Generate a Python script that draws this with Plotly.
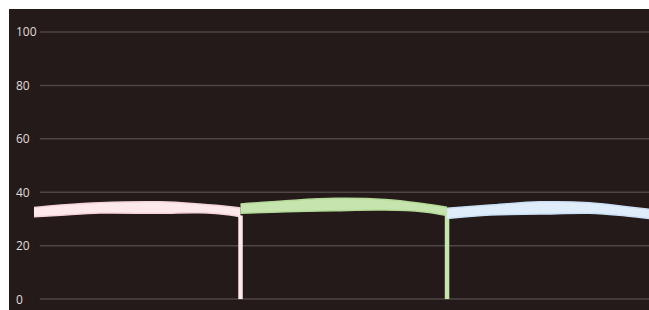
import plotly.graph_objects as go

# ---- data ----
y_ticks = [0, 20, 40, 60, 80, 100]
y_tick_labels = ["0", "20", "40", "60", "80", "100"]

pink_x = [0, 1.3, 3.2, 6.1, 8.0, 9.5, 10]
pink_hi = [34.3, 35.2, 36.1, 36.4, 35.6, 34.6, 34.1]
pink_lo = [30.8, 31.4, 32.2, 32.1, 32.3, 31.5, 30.8]

green_x = [10, 12.2, 14.6, 17.0, 18.8, 20]
green_hi = [35.6, 36.8, 37.7, 37.3, 35.8, 34.4]
green_lo = [32.1, 32.7, 33.1, 33.3, 32.7, 31.3]

blue_x = [20, 22.1, 24.5, 26.9, 28.7, 30]
blue_hi = [34.0, 35.2, 36.4, 36.1, 34.6, 33.4]
blue_lo = [30.2, 31.5, 31.8, 32.1, 31.1, 30.0]

series = [
    (pink_x, pink_hi, pink_lo, "#fde8ec", "#f5d3da", True),
    (green_x, green_hi, green_lo, "#c6e4ae", "#b4da97", True),
    (blue_x, blue_hi, blue_lo, "#dfedfb", "#cbe0f5", False),
]

fig = go.Figure()

for xs, hi, lo, fillc, linec, drop in series:
    fig.add_trace(go.Scatter(x=xs, y=lo, mode="lines",
                             line=dict(color=linec, width=1.5, shape="spline"),
                             hoverinfo="skip", showlegend=False))
    fig.add_trace(go.Scatter(x=xs, y=hi, mode="lines", fill="tonexty",
                             fillcolor=fillc,
                             line=dict(color=linec, width=1.5, shape="spline"),
                             hoverinfo="skip", showlegend=False))
    if drop:
        fig.add_trace(go.Scatter(x=[xs[-1], xs[-1]], y=[lo[-1] + 0.5, 0], mode="lines",
                                 line=dict(color=fillc, width=4.5),
                                 hoverinfo="skip", showlegend=False))

# gridlines
for v in y_ticks:
    fig.add_shape(type="line", xref="paper", yref="y", x0=0.048, x1=1, y0=v, y1=v,
                  line=dict(color="#4e4644", width=1.5), layer="below")

# y labels (left aligned)
for v, t in zip(y_ticks, y_tick_labels):
    fig.add_annotation(x=0.008, xref="paper", y=v, yref="y", text=t, showarrow=False,
                       xanchor="left", yanchor="middle",
                       font=dict(family="Open Sans", size=12, color="#e2dcda"))

fig.update_layout(
    width=649, height=310,
    margin=dict(l=9, r=0, t=9, b=0),
    paper_bgcolor="white",
    plot_bgcolor="#231a19",
    xaxis=dict(range=[-1.21, 29.78], showgrid=False, zeroline=False,
               showticklabels=False, visible=False),
    yaxis=dict(range=[-4.1, 108.6], showgrid=False, zeroline=False,
               showticklabels=False, visible=False),
)

fig.write_html("out.html",
               config={"displayModeBar": False, "staticPlot": True},
               post_script="document.body.style.margin='0';document.body.style.overflow='hidden';")
